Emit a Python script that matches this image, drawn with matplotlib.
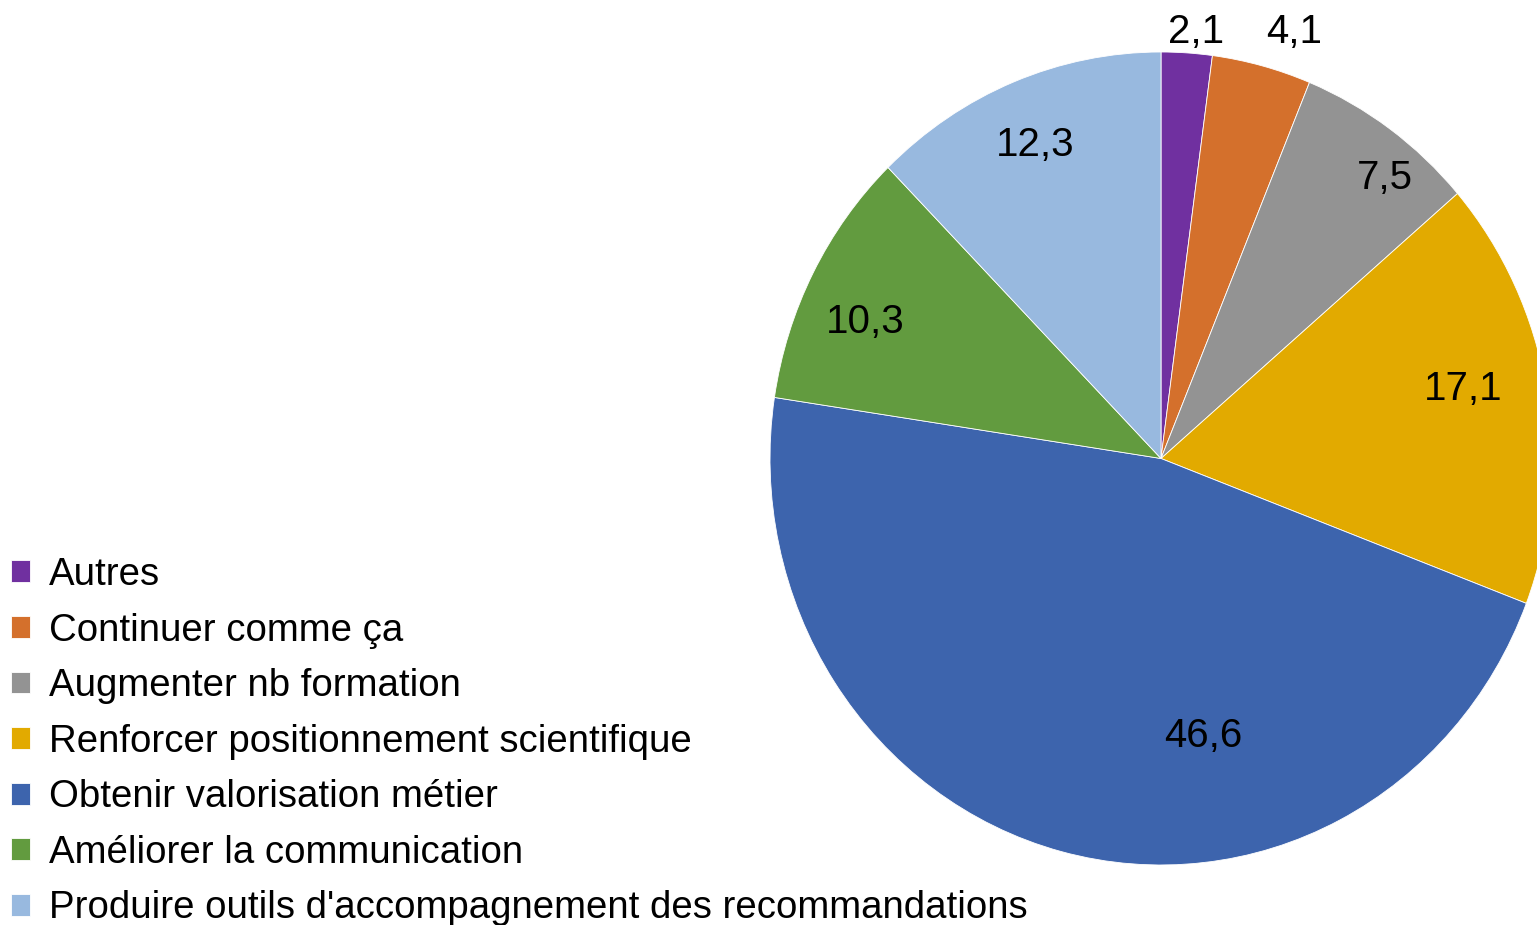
import matplotlib.pyplot as plt
import numpy as np

# données du graphique
categories = ["Autres", "Continuer comme ça", "Augmenter nb formation",
              "Renforcer positionnement scientifique", "Obtenir valorisation métier",
              "Améliorer la communication",
              "Produire outils d'accompagnement des recommandations"]
values = [2.1, 4.1, 7.5, 17.1, 46.6, 10.3, 12.3]
value_labels = ["2,1", "4,1", "7,5", "17,1", "46,6", "10,3", "12,3"]

colors = ["#7030A0", "#D4702C", "#939393", "#E2AA00", "#3D64AD", "#629B3F", "#98B9DF"]
# position des étiquettes (repère du camembert, rayon 1)
label_pos = [(0.09, 1.05), (0.34, 1.05), (0.573, 0.689), (0.772, 0.172),
             (0.107, -0.682), (-0.757, 0.335), (-0.322, 0.771)]

W, H = 1537, 925
fig = plt.figure(figsize=(W / 100, H / 100), dpi=100)
plt.rcParams['font.family'] = ['Liberation Sans', 'DejaVu Sans']

# boîte de l'ellipse en pixels
cx, cy, rx, ry = 1161, 458.5, 391, 406.5
ax = fig.add_axes([(cx - rx) / W, (H - cy - ry) / H, 2 * rx / W, 2 * ry / H])

wedges, _ = ax.pie(values, colors=colors, startangle=90, counterclock=False,
                   wedgeprops=dict(edgecolor='white', linewidth=0.6))
ax.set_aspect('auto')
ax.set_xlim(-1, 1)
ax.set_ylim(-1, 1)
ax.axis('off')

for (x, y), txt in zip(label_pos, value_labels):
    ax.text(x, y, txt, fontsize=29, ha='center', va='center', color='black')

fig.legend(wedges, categories, loc='upper left', bbox_to_anchor=(11 / W, 1 - 557 / H),
           frameon=False, fontsize=27.6, handlelength=0.5, handleheight=0.5,
           handletextpad=0.5, labelspacing=0.51, borderaxespad=0, borderpad=0)

fig.savefig("out.png", dpi=100)
